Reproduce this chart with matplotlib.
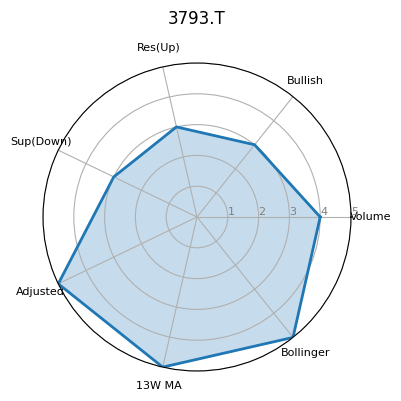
import numpy as np
import matplotlib
matplotlib.use("Agg")
import matplotlib.pyplot as plt

categories = ["Volume", "Bullish", "Res(Up)", "Sup(Down)", "Adjusted", "13W MA", "Bollinger"]
values = [4, 3, 3, 3, 5, 5, 5]
rticks = [1, 2, 3, 4, 5]

n = len(categories)
angles = np.linspace(0, 2 * np.pi, n, endpoint=False).tolist()
vals = values + values[:1]
angs = angles + angles[:1]

fig = plt.figure(figsize=(4.01, 4.01), dpi=100)
ax = fig.add_axes([43 / 401, 1 - 371 / 401, 308 / 401, 308 / 401], polar=True)
ax.plot(angs, vals, color="tab:blue", linewidth=2)
ax.fill(angs, vals, color="tab:blue", alpha=0.25)
ax.set_xticks(angles)
ax.set_xticklabels(categories, fontsize=8)
ax.set_ylim(0, 5)
ax.set_yticks(rticks)
ax.set_yticklabels([str(t) for t in rticks], fontsize=8, color="gray")
ax.set_rlabel_position(0)
ax.set_title("3793.T", fontsize=12, y=1.0, pad=28)
fig.savefig("out.png", dpi=100)
